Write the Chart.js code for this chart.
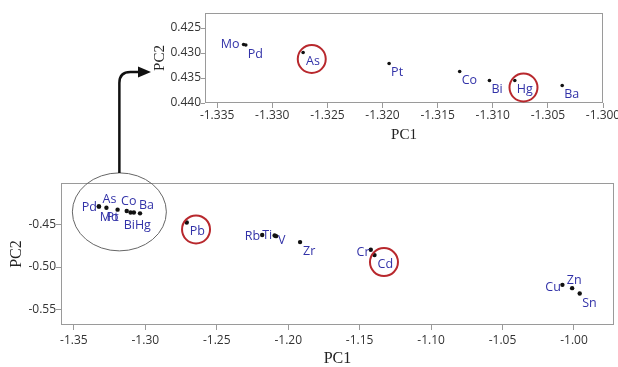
<!DOCTYPE html>
<html>
<head>
<meta charset="utf-8">
<script src="https://cdn.jsdelivr.net/npm/chart.js@4/dist/chart.umd.min.js"></script>
<style>
  html, body { margin: 0; padding: 0; overflow: hidden; background: #fff; width: 618px; height: 367px; }
  #main { position: absolute; left: 0; top: 0; }
  #zoom { position: absolute; left: 140px; top: 0; }
</style>
</head>
<body>
<canvas id="main" width="618" height="367" style="width:618px;height:367px"></canvas>
<canvas id="zoom" width="500" height="146" style="width:500px;height:146px"></canvas>
<script>
// PCA scores of the elements (PC1, PC2)
const elements = ['Mo', 'Pd', 'As', 'Pt', 'Co', 'Bi', 'Hg', 'Ba', 'Pb', 'Rb', 'Ti', 'V', 'Zr', 'Cr', 'Cd', 'Cu', 'Zn', 'Sn'];
const pc1 = [-1.3326, -1.3324, -1.3272, -1.3194, -1.3130, -1.3103, -1.3080, -1.3037, -1.2710, -1.2182, -1.2095, -1.2085, -1.1917, -1.1422, -1.1396, -1.0081, -1.0013, -0.9960];
const pc2 = [-0.4283, -0.4284, -0.4299, -0.4321, -0.4337, -0.4355, -0.4355, -0.4365, -0.4473, -0.4622, -0.4628, -0.4635, -0.4705, -0.4796, -0.4859, -0.5211, -0.5250, -0.5314];

// the tight group that is magnified in the upper panel
const cluster = ['Mo', 'Pd', 'As', 'Pt', 'Co', 'Bi', 'Hg', 'Ba'];
// elements marked with a red ring in each panel
const ringedMain = ['Pb', 'Cd'];
const ringedZoom = ['As', 'Hg'];

// tick labels
const mainXTicks = ['-1.35', '-1.30', '-1.25', '-1.20', '-1.15', '-1.10', '-1.05', '-1.00'];
const mainYTicks = ['-0.55', '-0.50', '-0.45'];
const zoomXTicks = ['-1.335', '-1.330', '-1.325', '-1.320', '-1.315', '-1.310', '-1.305', '-1.300'];
const zoomYTicks = ['0.425', '0.430', '0.435', '0.440'];

const LABEL_BLUE = '#3232a8';
const RING_RED = '#b8282d';
const FRAME = '#9a9a9a';
const TICK_FONT = { family: 'Open Sans', size: 12 };

// where each name sits next to its dot: [textAlign, dx, dy]
const mainLabelPos = {
  Mo: ['left', 1, 11], Pd: ['right', -2, 1.3], As: ['center', 3, -8.5], Pt: ['right', 1, 7.5],
  Co: ['center', 2, -9.5], Bi: ['center', -1.3, 13], Hg: ['left', 1, 13], Ba: ['left', -1, -7.7],
  Pb: ['left', 3, 9], Rb: ['right', -2, 1.3], Ti: ['right', -2.4, 0.3], V: ['left', 2, 4],
  Zr: ['left', 3, 9], Cr: ['right', -1.3, 2.3], Cd: ['left', 3, 9], Cu: ['right', -1.6, 2.3],
  Zn: ['center', 2, -8], Sn: ['left', 2.5, 9.5]
};
const zoomLabelPos = {
  Mo: ['right', -4, 0], Pd: ['left', 2, 9], As: ['left', 3, 8.5], Pt: ['left', 2, 9],
  Co: ['left', 2, 9], Bi: ['left', 2, 9], Hg: ['left', 2, 9], Ba: ['left', 2, 9]
};

function fmtTick(list, digits) {
  return function (v) {
    const s = Number(v).toFixed(digits);
    return list.includes(s) ? s : '';
  };
}

// full box around the plotting area
const framePlugin = {
  id: 'frame',
  beforeDatasetsDraw(chart) {
    const { ctx, chartArea: a } = chart;
    ctx.save();
    ctx.strokeStyle = FRAME;
    ctx.lineWidth = 1;
    ctx.strokeRect(Math.round(a.left) + 0.5, Math.round(a.top) + 0.5,
      Math.round(a.right - a.left) - 1, Math.round(a.bottom - a.top) - 1);
    ctx.restore();
  }
};

// element names beside the dots, with red rings on the highlighted ones
function namePlugin(names, layout, ringed) {
  return {
    id: 'names',
    afterDatasetsDraw(chart) {
      const { ctx } = chart;
      const meta = chart.getDatasetMeta(0);
      ctx.save();
      ctx.font = '12.5px "Open Sans"';
      ctx.textBaseline = 'middle';
      meta.data.forEach((pt, i) => {
        const name = names[i];
        const [align, dx, dy] = layout[name];
        const tx = pt.x + dx, ty = pt.y + dy;
        ctx.fillStyle = LABEL_BLUE;
        ctx.textAlign = align;
        ctx.fillText(name, tx, ty);
        if (ringed.includes(name)) {
          const w = ctx.measureText(name).width;
          const cx = align === 'left' ? tx + w / 2 : align === 'right' ? tx - w / 2 : tx;
          ctx.beginPath();
          ctx.ellipse(cx - 1.3, ty - 2, 14, 14, 0, 0, Math.PI * 2);
          ctx.strokeStyle = RING_RED;
          ctx.lineWidth = 2;
          ctx.stroke();
        }
      });
      ctx.restore();
    }
  };
}

// ellipse around the magnified group and the arrow pointing to the upper panel
const calloutPlugin = {
  id: 'callout',
  afterDraw(chart) {
    const { ctx } = chart;
    const meta = chart.getDatasetMeta(0);
    const pts = meta.data.filter((_, i) => cluster.includes(elements[i]));
    const xs = pts.map(p => p.x), ys = pts.map(p => p.y);
    const cx = (Math.min(...xs) + Math.max(...xs)) / 2;
    const cy = (Math.min(...ys) + Math.max(...ys)) / 2 + 2;
    const rx = 47, ry = 39;
    ctx.save();
    ctx.beginPath();
    ctx.ellipse(cx, cy, rx, ry, 0, 0, Math.PI * 2);
    ctx.strokeStyle = '#666';
    ctx.lineWidth = 1;
    ctx.stroke();

    const top = cy - ry;
    const ay = 72, r = 11, headTip = 151, headBase = 139;
    ctx.beginPath();
    ctx.moveTo(cx, top);
    ctx.lineTo(cx, ay + r);
    ctx.quadraticCurveTo(cx, ay, cx + r, ay);
    ctx.lineTo(headBase, ay);
    ctx.strokeStyle = '#111';
    ctx.lineWidth = 2.5;
    ctx.stroke();
    ctx.beginPath();
    ctx.moveTo(headTip, ay);
    ctx.lineTo(headBase - 1, ay - 5.5);
    ctx.lineTo(headBase - 1, ay + 5.5);
    ctx.closePath();
    ctx.fillStyle = '#111';
    ctx.fill();
    ctx.restore();
  }
};

function axis(opts) {
  return {
    type: 'linear',
    min: opts.min,
    max: opts.max,
    reverse: !!opts.reverse,
    afterFit: opts.fit,
    border: { display: false },
    grid: { drawOnChartArea: false, drawTicks: true, tickLength: opts.tickLength, color: FRAME },
    ticks: {
      stepSize: opts.step,
      includeBounds: false,
      autoSkip: false,
      maxRotation: 0,
      padding: opts.pad,
      color: '#333',
      font: TICK_FONT,
      callback: fmtTick(opts.labels, opts.digits)
    },
    title: {
      display: true,
      text: opts.title,
      color: '#222',
      font: { family: 'Liberation Serif', size: opts.titleSize, lineHeight: 1 },
      padding: opts.titlePad
    }
  };
}

Chart.defaults.animation = false;

new Chart(document.getElementById('main'), {
  type: 'scatter',
  data: {
    datasets: [{
      data: elements.map((n, i) => ({ x: pc1[i], y: pc2[i] })),
      pointRadius: 2.2,
      pointBackgroundColor: '#111',
      pointBorderWidth: 0
    }]
  },
  options: {
    responsive: false,
    animation: false,
    layout: { padding: { top: 183, right: 2, left: 0, bottom: 0 } },
    plugins: { legend: { display: false }, tooltip: { enabled: false } },
    scales: {
      x: axis({ min: -1.359, max: -0.972, step: 0.05, labels: mainXTicks, digits: 2, tickLength: 5, pad: 3,
        title: 'PC1', titleSize: 16, titlePad: { top: 0, bottom: 0 }, fit: s => { s.height = 42; } }),
      y: axis({ min: -0.5686, max: -0.4006, step: 0.05, labels: mainYTicks, digits: 2, tickLength: 5, pad: 0,
        title: 'PC2', titleSize: 16, titlePad: { top: 9, bottom: 0 }, fit: s => { s.width = 61; } })
    }
  },
  plugins: [framePlugin, namePlugin(elements, mainLabelPos, ringedMain), calloutPlugin]
});

const zoomIdx = elements.map((n, i) => i).filter(i => cluster.includes(elements[i]));
new Chart(document.getElementById('zoom'), {
  type: 'scatter',
  data: {
    datasets: [{
      // the upper panel shows PC2 magnitudes on a reversed axis
      data: zoomIdx.map(i => ({ x: pc1[i], y: -pc2[i] })),
      pointRadius: 1.8,
      pointBackgroundColor: '#111',
      pointBorderWidth: 0
    }]
  },
  options: {
    responsive: false,
    animation: false,
    layout: { padding: { top: 13, right: 37, left: 0, bottom: 0 } },
    plugins: { legend: { display: false }, tooltip: { enabled: false } },
    scales: {
      x: axis({ min: -1.3361, max: -1.300, step: 0.005, labels: zoomXTicks, digits: 3, tickLength: 5, pad: 0,
        title: 'PC1', titleSize: 15, titlePad: { top: 0, bottom: 3.5 }, fit: s => { s.height = 43; } }),
      y: axis({ min: 0.422, max: 0.440, reverse: true, step: 0.005, labels: zoomYTicks, digits: 3, tickLength: 4, pad: 0,
        title: 'PC2', titleSize: 15, titlePad: { top: 12.5, bottom: 0 }, fit: s => { s.width = 65; } })
    }
  },
  plugins: [framePlugin, namePlugin(zoomIdx.map(i => elements[i]), zoomLabelPos, ringedZoom)]
});
</script>
</body>
</html>
